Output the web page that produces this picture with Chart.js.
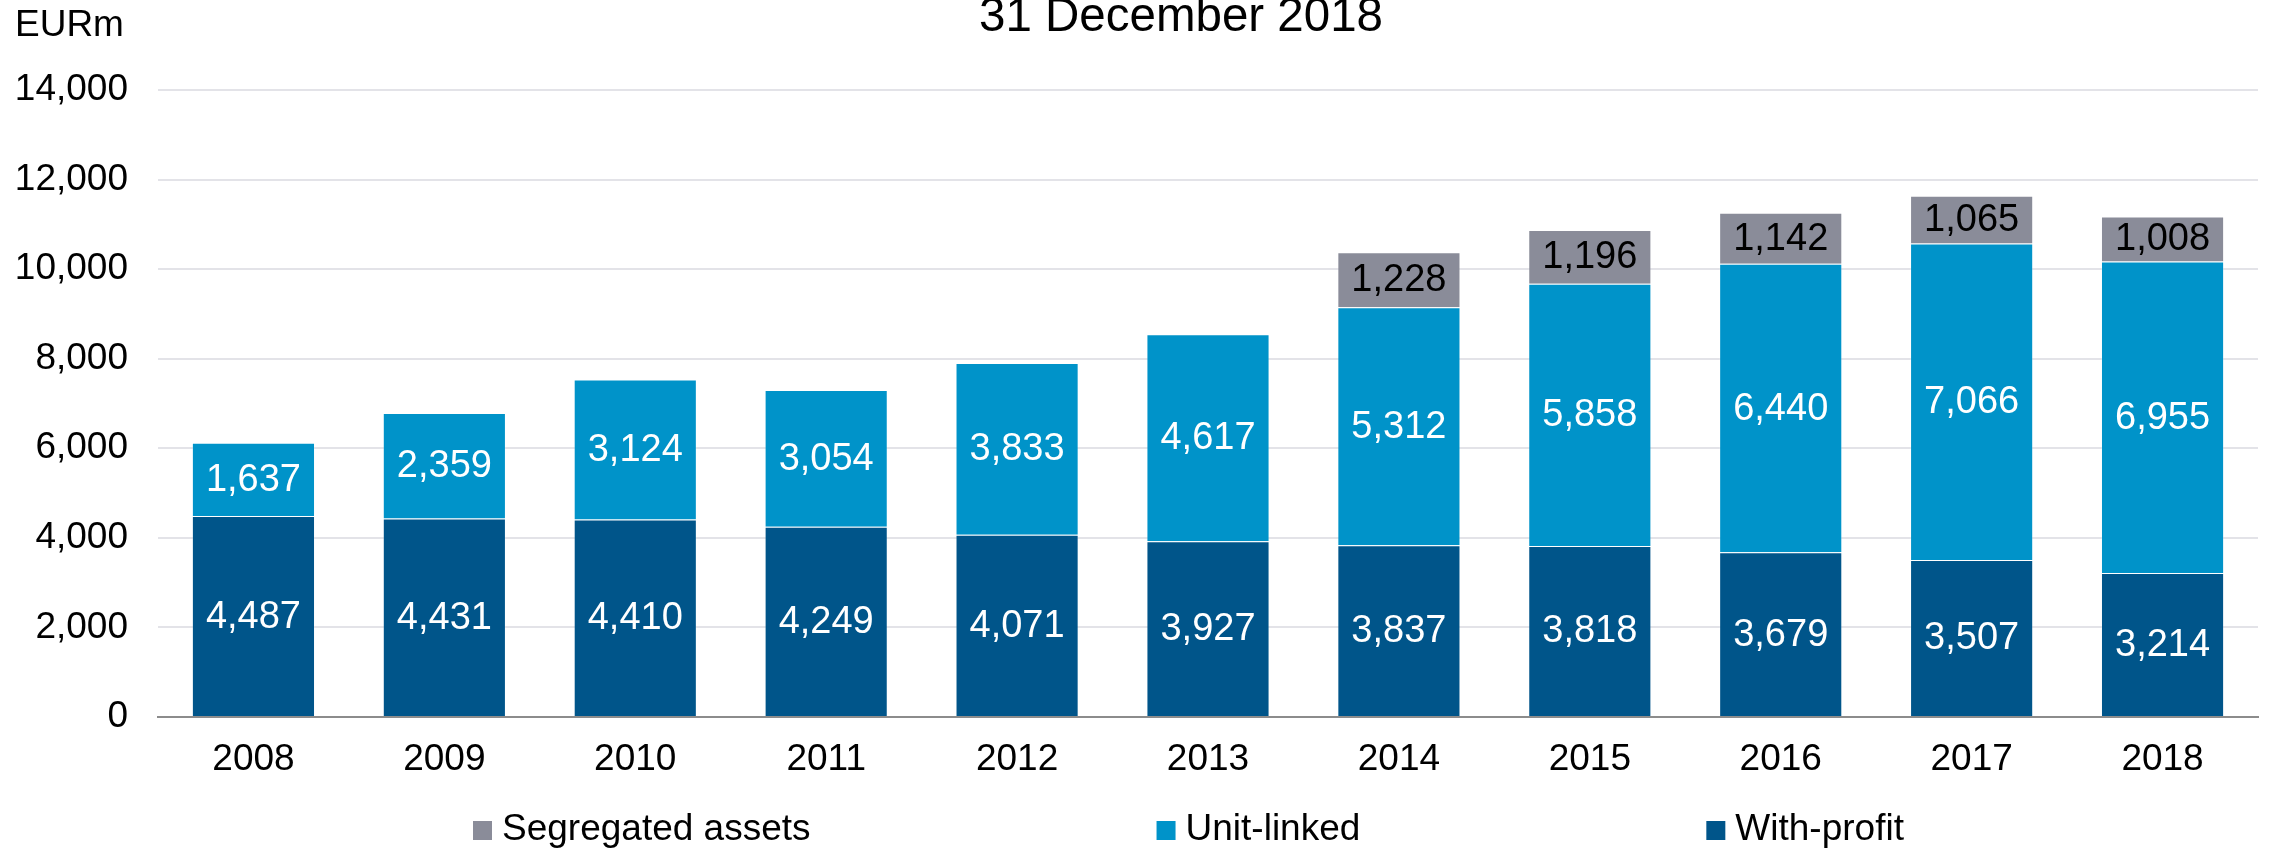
<!DOCTYPE html>
<html>
<head>
<meta charset="utf-8">
<title>Assets by type</title>
<script src="https://cdn.jsdelivr.net/npm/chart.js@4.4.1/dist/chart.umd.min.js"></script>
<style>
  html, body { margin: 0; padding: 0; background: #fff; }
  #wrap { position: relative; width: 2272px; height: 850px; }
</style>
</head>
<body>
<div id="wrap"><canvas id="assets"></canvas></div>
<script>
// EURm, year end
const years = ['2008', '2009', '2010', '2011', '2012', '2013', '2014', '2015', '2016', '2017', '2018'];
const withProfit = [4487, 4431, 4410, 4249, 4071, 3927, 3837, 3818, 3679, 3507, 3214];
const unitLinked = [1637, 2359, 3124, 3054, 3833, 4617, 5312, 5858, 6440, 7066, 6955];
const segregated = [null, null, null, null, null, null, 1228, 1196, 1142, 1065, 1008];

const yMax = 14000;
const yStep = 2000;

const FONT = '"Liberation Sans", Arial, Helvetica, sans-serif';
Chart.defaults.font.family = FONT;
Chart.defaults.font.size = 37;
Chart.defaults.color = '#000';

const fmt = v => Number(v).toLocaleString('en-US');

// numbers in the middle of each stacked segment
const segmentLabels = {
  id: 'segmentLabels',
  afterDatasetsDraw(chart) {
    const ctx = chart.ctx;
    ctx.save();
    ctx.font = '38px ' + FONT;
    ctx.textAlign = 'center';
    ctx.textBaseline = 'middle';
    chart.data.datasets.forEach((ds, i) => {
      const meta = chart.getDatasetMeta(i);
      if (meta.hidden) return;
      meta.data.forEach((bar, j) => {
        const v = ds.data[j];
        if (v == null) return;
        ctx.fillStyle = ds.labelColor;
        ctx.fillText(fmt(v), bar.x, (bar.y + bar.base) / 2 + 1);
      });
    });
    ctx.restore();
  }
};

// unit caption and heading at the top
const heading = {
  id: 'heading',
  afterDraw(chart) {
    const ctx = chart.ctx;
    ctx.save();
    ctx.fillStyle = '#000';
    ctx.textBaseline = 'alphabetic';
    ctx.textAlign = 'left';
    ctx.font = '37px ' + FONT;
    ctx.fillText('EURm', 15, 36);
    ctx.textAlign = 'center';
    ctx.font = '47.5px ' + FONT;
    ctx.fillText('31 December 2018', 1181, 31);
    ctx.restore();
  }
};

// legend row under the axis, top series first
const legendRow = {
  id: 'legendRow',
  afterDraw(chart) {
    const ctx = chart.ctx;
    const box = 19, gap = 346;
    let x = 473;
    ctx.save();
    ctx.font = '37px ' + FONT;
    ctx.textAlign = 'left';
    ctx.textBaseline = 'alphabetic';
    chart.data.datasets.slice().reverse().forEach(ds => {
      ctx.fillStyle = ds.backgroundColor;
      ctx.fillRect(x, 821, box, box);
      ctx.fillStyle = '#000';
      ctx.fillText(ds.label, x + box + 10, 840);
      x += box + 10 + ctx.measureText(ds.label).width + gap;
    });
    ctx.restore();
  }
};

new Chart(document.getElementById('assets'), {
  type: 'bar',
  data: {
    labels: years,
    datasets: [
      {
        label: 'With-profit',
        data: withProfit,
        backgroundColor: '#00558a',
        borderColor: 'rgba(255,255,255,0.18)',
        borderWidth: 1,
        labelColor: '#fff'
      },
      {
        label: 'Unit-linked',
        data: unitLinked,
        backgroundColor: '#0093c9',
        borderColor: 'rgba(255,255,255,0.2)',
        borderWidth: 1,
        labelColor: '#fff'
      },
      {
        label: 'Segregated assets',
        data: segregated,
        backgroundColor: '#8a8c99',
        borderColor: 'rgba(255,255,255,0.2)',
        borderWidth: 1,
        labelColor: '#000'
      }
    ]
  },
  options: {
    responsive: true,
    maintainAspectRatio: false,
    animation: false,
    layout: { padding: { top: 90, right: 14, bottom: 0, left: 0 } },
    barPercentage: 0.645,
    categoryPercentage: 1,
    plugins: {
      legend: { display: false },
      tooltip: { enabled: false }
    },
    scales: {
      x: {
        stacked: true,
        grid: { display: false, drawTicks: false },
        border: { display: true, color: '#8c8c8c', width: 2 },
        ticks: { padding: 21, color: '#000', maxRotation: 0 },
        afterFit: s => { s.height = 133; s.paddingLeft = 0; s.paddingRight = 0; }
      },
      y: {
        stacked: true,
        min: 0,
        max: yMax,
        grid: { color: '#e3e3e8', lineWidth: 2, drawTicks: false },
        border: { display: false },
        ticks: { stepSize: yStep, padding: 30, color: '#000', callback: v => fmt(v) },
        afterFit: s => { s.width = 158; s.paddingTop = 0; s.paddingBottom = 0; }
      }
    }
  },
  plugins: [segmentLabels, heading, legendRow]
});
</script>
</body>
</html>
